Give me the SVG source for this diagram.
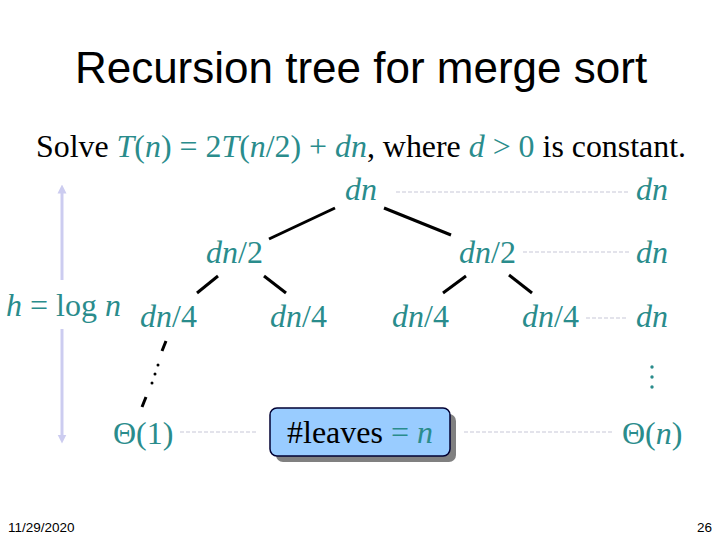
<svg xmlns="http://www.w3.org/2000/svg" width="720" height="540" viewBox="0 0 720 540">
<style>
.t{font-family:"Liberation Serif","Times New Roman",serif;font-size:32px;fill:#2a8c8c}
.i{font-style:italic}
.k{fill:#000}
.ln{stroke:#000;stroke-width:3;fill:none}
.dash{stroke:#c8c8d8;stroke-width:1.2;stroke-dasharray:4 2;fill:none}
.ar{stroke:#ccccf0;stroke-width:3;fill:none}
</style>
<defs>
<marker id="ah" viewBox="0 0 10 10" refX="5" refY="5" markerWidth="3" markerHeight="4" orient="auto-start-reverse">
<path d="M0,0 L10,5 L0,10 z" fill="#ccccf0"/>
</marker>
</defs>
<rect width="720" height="540" fill="#fff"/>
<text x="361" y="83" text-anchor="middle" font-family="Liberation Sans, Arial, sans-serif" font-size="44" fill="#000">Recursion tree for merge sort</text>
<text x="36" y="157" font-family="Liberation Serif, Times New Roman, serif" font-size="32" fill="#000" textLength="650" lengthAdjust="spacingAndGlyphs">Solve <tspan fill="#2a8c8c"><tspan font-style="italic">T</tspan>(<tspan font-style="italic">n</tspan>) = 2<tspan font-style="italic">T</tspan>(<tspan font-style="italic">n</tspan>/2) + <tspan font-style="italic">dn</tspan></tspan>, where <tspan fill="#2a8c8c"><tspan font-style="italic">d</tspan> &gt; 0</tspan> is constant.</text>
<g id="connectors">
<line class="ln" x1="335" y1="208" x2="269" y2="239"/>
<line class="ln" x1="384" y1="208" x2="451" y2="235"/>
<line class="ln" x1="218" y1="276" x2="197" y2="293"/>
<line class="ln" x1="264" y1="276" x2="286" y2="293"/>
<line class="ln" x1="466" y1="276" x2="443" y2="293"/>
<line class="ln" x1="509" y1="275" x2="532" y2="293"/>
<line class="ln" x1="166" y1="341" x2="162" y2="351"/>
<line class="ln" x1="146" y1="397" x2="142" y2="407"/>
<circle cx="158" cy="365" r="1.5" fill="#000"/>
<circle cx="155" cy="374" r="1.5" fill="#000"/>
<circle cx="152" cy="383" r="1.5" fill="#000"/>
<line class="dash" x1="396" y1="192" x2="628" y2="192"/>
<line class="dash" x1="523" y1="252" x2="629" y2="252"/>
<line class="dash" x1="586" y1="318" x2="628" y2="318"/>
<line class="dash" x1="180" y1="432" x2="258" y2="432"/>
<line class="dash" x1="464" y1="432" x2="613" y2="432"/>
<line class="ar" x1="62" y1="280" x2="62" y2="189" marker-end="url(#ah)"/>
<line class="ar" x1="62" y1="329" x2="62" y2="439" marker-end="url(#ah)"/>
</g>
<g id="root"><text class="t i" x="345" y="200">dn</text></g>
<g id="n2a"><text class="t" x="206" y="263"><tspan class="i">dn</tspan>/2</text></g>
<g id="n2b"><text class="t" x="459" y="263"><tspan class="i">dn</tspan>/2</text></g>
<g id="n4a"><text class="t" x="140" y="327"><tspan class="i">dn</tspan>/4</text></g>
<g id="n4b"><text class="t" x="270" y="327"><tspan class="i">dn</tspan>/4</text></g>
<g id="n4c"><text class="t" x="392" y="327"><tspan class="i">dn</tspan>/4</text></g>
<g id="n4d"><text class="t" x="522" y="327"><tspan class="i">dn</tspan>/4</text></g>
<g id="sum1"><text class="t i" x="636" y="200">dn</text></g>
<g id="sum2"><text class="t i" x="636" y="263">dn</text></g>
<g id="sum3"><text class="t i" x="636" y="327">dn</text></g>
<g id="vdots">
<circle cx="652" cy="367" r="1.7" fill="#2a8c8c"/>
<circle cx="652" cy="377" r="1.7" fill="#2a8c8c"/>
<circle cx="652" cy="387" r="1.7" fill="#2a8c8c"/>
</g>
<g id="height"><rect x="4" y="290" width="116" height="34" fill="#fff"/><text class="t" x="6" y="316"><tspan class="i">h</tspan> = log <tspan class="i">n</tspan></text></g>
<g id="leaf"><text class="t" x="113" y="444">Θ(1)</text></g>
<g id="total"><text class="t" x="622" y="444">Θ(<tspan class="i">n</tspan>)</text></g>
<g id="leaves">
<rect x="276" y="414" width="180" height="48" rx="7" fill="#808080"/>
<rect x="270" y="408" width="180" height="48" rx="7" fill="#99ccff" stroke="#000033" stroke-width="1.5"/>
<text class="t" x="287" y="443"><tspan class="k">#leaves</tspan> = <tspan class="i">n</tspan></text>
</g>
<text x="8" y="532" font-family="Liberation Sans, Arial, sans-serif" font-size="13.5" fill="#000">11/29/2020</text>
<text x="712" y="532" text-anchor="end" font-family="Liberation Sans, Arial, sans-serif" font-size="13.5" fill="#000">26</text>
</svg>
